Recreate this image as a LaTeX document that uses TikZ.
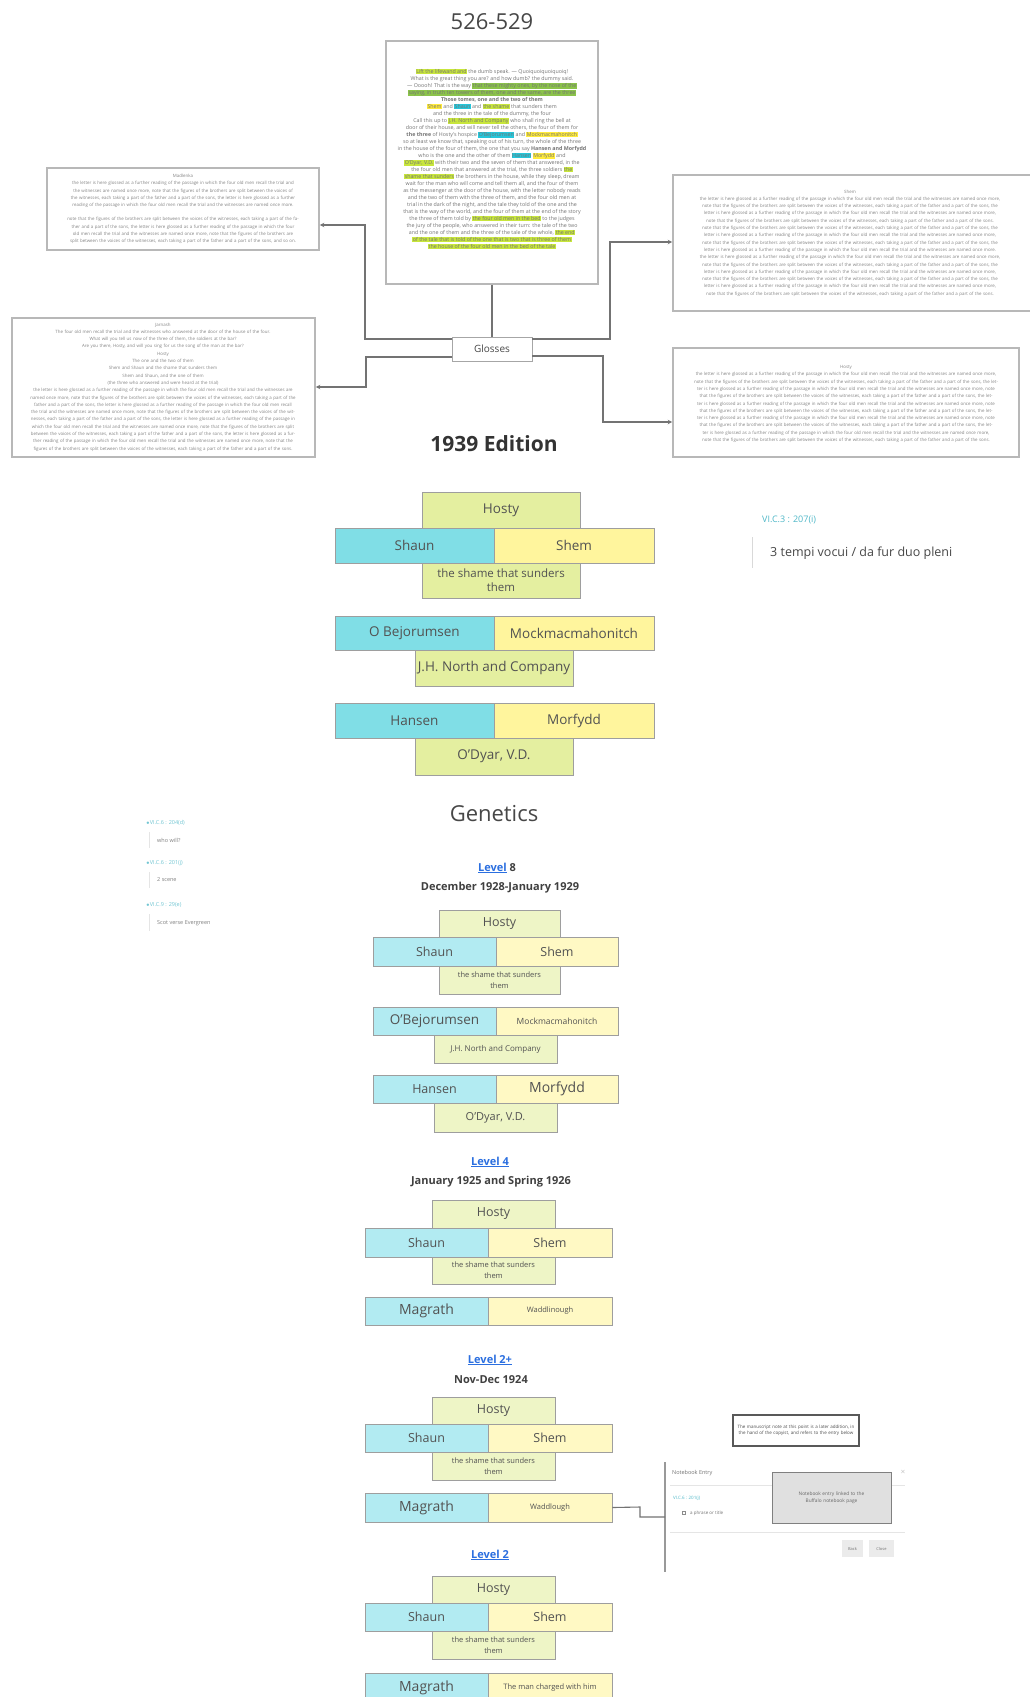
\documentclass[tikz,border=0pt]{standalone}
\usepackage{fontspec}
\setmainfont{Open Sans}
\usetikzlibrary{arrows.meta}
\definecolor{cyA}{HTML}{80DEE6}
\definecolor{yeA}{HTML}{FFF59D}
\definecolor{grA}{HTML}{E4EFA0}
\definecolor{cyB}{HTML}{B2EBF2}
\definecolor{yeB}{HTML}{FFF9C4}
\definecolor{grB}{HTML}{EEF5C6}
\definecolor{hlime}{HTML}{C8E63C}
\definecolor{hgreen}{HTML}{8BC34A}
\definecolor{hcyan}{HTML}{26C6DA}
\definecolor{hyell}{HTML}{FFEB3B}
\definecolor{teal}{HTML}{4FB8C8}
\definecolor{linkb}{HTML}{2B6FE0}
\newcommand\hl[2]{{\setlength{\fboxsep}{0.4pt}\colorbox{#1}{#2}}}
\newcommand\bx[7]{\node[#2, minimum width={(#5)-(#3)}, minimum height={(#6)-(#4)}] (#1) at ({((#3)+(#5))/2},{((#4)+(#6))/2}) {#7};}
\newcommand\fsz[2]{\fontsize{#1}{#2}\selectfont}
\newcommand\glossA{the letter is here glossed as a further reading of the passage in which the four old men recall the trial and the witnesses are named once more}
\newcommand\glossB{note that the figures of the brothers are split between the voices of the witnesses, each taking a part of the father and a part of the sons}
\begin{document}
\begin{tikzpicture}[x=1pt,y=-1pt,
  cell/.style={draw=black!38, line width=0.9pt, inner sep=1pt, align=center, text=black!68},
  big/.style={cell, font=\fsz{13.5}{15}},
  small/.style={cell, font=\fsz{12.5}{14}},
  tiny/.style={cell, font=\fsz{7.5}{9.5}},
  shm/.style={cell, font=\fsz{7.5}{11}},
  gbox/.style={draw=black!28, line width=1.6pt, fill=white, inner sep=0pt},
  gtext/.style={align=center, text=black!48, font=\fsz{4.4}{7.3}, inner sep=0pt},
  conn/.style={draw=black!55, line width=1.1pt},
  arr/.style={conn, -{Stealth[length=4.5pt,width=4.5pt]}},
  lvl/.style={text=linkb, font=\fsz{11}{12}\bfseries},
  dat/.style={text=black!75, font=\fsz{11}{12}\bfseries}
]
\useasboundingbox[fill=white] (0,0) rectangle (1030,1697);

% ---------- title and page ----------
\node[text=black!72, font=\fsz{22}{24}] (title) at (492,22) {526-529};
\bx{page}{gbox}{386}{41}{598}{284}{}
\node[gtext, text=black!55, font=\fsz{5.3}{7}] (pagetext) at (492,159) {%
\hl{hlime}{Lift the lifewand and} the dumb speak. --- Quoiquoiquoiquoiq!\\
What is the great thing you are? and how dumb? the dummy said.\\
--- Ooooh! That is the way \hl{hgreen}{that these mighty ones, by the nose of the}\\
\hl{hgreen}{saying, in truth ten towers of them, one and the same, are the three}\\
\textbf{Those tomes, one and the two of them}\\
\hl{hyell}{Shem} and \hl{hcyan}{Shaun} and \hl{hlime}{the shame} that sunders them\\
and the three in the tale of the dummy, the four\\
Call this up to \hl{hlime}{J.H. North and Company} who shall ring the bell at\\
door of their house, and will never tell the others, the four of them for\\
\textbf{the three} of Hosty's hospice \hl{hcyan}{O'Bejorumsen} and \hl{hyell}{Mockmacmahonitch}\\
so at least we know that, speaking out of his turn, the whole of the three\\
in the house of the four of them, the one that you say \textbf{Hansen and Morfydd}\\
who is the one and the other of them \hl{hcyan}{Hansen} \hl{hyell}{Morfydd} and\\
\hl{hlime}{O'Dyar, V.D.} with their two and the seven of them that answered, in the\\
the four old men that answered at the trial, the three soldiers \hl{hlime}{the}\\
\hl{hlime}{shame that sunders} the brothers in the house, while they sleep, dream\\
wait for the man who will come and tell them all, and the four of them\\
as the messenger at the door of the house, with the letter nobody reads\\
and the two of them with the three of them, and the four old men at\\
trial in the dark of the night, and the tale they told of the one and the\\
that is the way of the world, and the four of them at the end of the story\\
the three of them told by \hl{hlime}{the four old men in the bed} to the judges\\
the jury of the people, who answered in their turn: the tale of the two\\
and the one of them and the three of the tale of the whole, \hl{hlime}{the end}\\
\hl{hlime}{of the tale that is told of the one that is two that is three of them}\\
\hl{hlime}{the house of the four old men in the bed of the tale}};

\bx{glosses}{draw=black!35, line width=1pt, fill=white, font=\fsz{10}{11}, text=black!72, inner sep=0pt}{452}{337}{532}{361}{Glosses}

% ---------- side gloss boxes ----------
\bx{g1}{gbox}{47}{168}{319}{250}{}
\node[gtext, text width=262] (g1t) at (183,209) {Madlenka\\ \glossA, \glossB, \glossA.\\[7pt]
\glossB, \glossA, \glossB, and so on.};

\bx{g2}{gbox}{12}{318}{315}{457}{}
\node[gtext, text width=296] (g2t) at (163,387) {Jarnash\\
The four old men recall the trial and the witnesses who answered at the door of the house of the four.\\
What will you tell us now of the three of them, the soldiers at the bar?\\
Are you there, Hosty, and will you sing for us the song of the man at the bar?\\
Hosty\\
The one and the two of them\\
Shem and Shaun and the shame that sunders them\\
Shem and Shaun, and the one of them\\
(the three who answered and were heard at the trial)\\
\glossA, \glossB, \glossA, \glossB, \glossA, \glossB, \glossA, \glossB.};

\bx{g3}{gbox}{673}{175}{1040}{311}{}
\node[gtext, text width=345] (g3t) at (850,243) {Shem\\
\glossA, \glossB, \glossA, \glossB.\\
\glossB, \glossA, \glossB, \glossA.\\
\glossA, \glossB, \glossA, \glossB, \glossA, \glossB.};

\bx{g4}{gbox}{673}{348}{1019}{457}{}
\node[gtext, text width=328] (g4t) at (846,404) {Hosty\\
\glossA, \glossB, \glossA, \glossB, \glossA, \glossB, \glossA, \glossB, \glossA, \glossB.};

% ---------- connectors ----------
\coordinate (c1s) at (452,339); \coordinate (c1a) at (365,339); \coordinate (c1b) at (365,225);
\coordinate (c2s) at (452,357); \coordinate (c2a) at (366,357); \coordinate (c2b) at (366,387);
\coordinate (c3s) at (532,339); \coordinate (c3a) at (610,339); \coordinate (c3b) at (610,242);
\coordinate (c4s) at (532,356); \coordinate (c4a) at (603,356); \coordinate (c4b) at (603,422);
\draw[conn] (page.south) -- (glosses.north);
\draw[arr] (c1s) -- (c1a) -- (c1b) -- (c1b -| g1.east);
\draw[arr] (c2s) -- (c2a) -- (c2b) -- (c2b -| g2.east);
\draw[arr] (c3s) -- (c3a) -- (c3b) -- (c3b -| g3.west);
\draw[arr] (c4s) -- (c4a) -- (c4b) -- (c4b -| g4.west);

% ---------- 1939 edition ----------
\node[text=black!80, font=\fsz{21}{23}\bfseries] (ed) at (494,444) {1939 Edition};
\bx{eH}{big, fill=grA}{422}{492}{580}{528}{Hosty}
\bx{eSa}{big, fill=cyA}{335}{528}{494}{563}{Shaun}
\bx{eSe}{big, fill=yeA}{494}{528}{654}{563}{Shem}
\bx{esh}{cell, fill=grA, font=\fsz{11.5}{14}}{422}{563}{580}{598}{the shame that sunders\\them}
\bx{eOB}{big, fill=cyA}{335}{616}{494}{650}{O Bejorumsen}
\bx{eMo}{big, fill=yeA}{494}{616}{654}{650}{Mockmacmahonitch}
\bx{eJH}{big, fill=grA}{415}{650}{573}{686}{J.H. North and Company}
\bx{eHa}{big, fill=cyA}{335}{703}{494}{738}{Hansen}
\bx{eMf}{big, fill=yeA}{494}{703}{654}{738}{Morfydd}
\bx{eOD}{big, fill=grA}{415}{738}{573}{775}{O'Dyar, V.D.}

\node[text=teal, font=\fsz{9}{10}, anchor=west, inner sep=0pt] (vi) at (762,520) {VI.C.3 : 207(i)};
\node[text=black!72, font=\fsz{12.5}{14}, anchor=west, inner sep=0pt] (tempi) at (770,553) {3 tempi vocui / da fur duo pleni};
\coordinate (tl1) at (752,537); \coordinate (tl2) at (752,568);
\draw[black!15, line width=1pt] (tl1) -- (tl2);

% ---------- genetics ----------
\node[text=black!72, font=\fsz{22}{24}] (gen) at (494,814) {Genetics};

\node[text=teal!80, font=\fsz{5.5}{6}, anchor=west, inner sep=0pt] (n1) at (146,823) {$\bullet$VI.C.6 : 204(d)};
\node[text=black!50, font=\fsz{5.5}{6}, anchor=west, inner sep=0pt] (n1t) at (157,840) {who will?};
\node[text=teal!80, font=\fsz{5.5}{6}, anchor=west, inner sep=0pt] (n2) at (146,863) {$\bullet$VI.C.6 : 201(j)};
\node[text=black!50, font=\fsz{5.5}{6}, anchor=west, inner sep=0pt] (n2t) at (157,880) {2 scene};
\node[text=teal!80, font=\fsz{5.5}{6}, anchor=west, inner sep=0pt] (n3) at (146,905) {$\bullet$VI.C.9 : 29(e)};
\node[text=black!50, font=\fsz{5.5}{6}, anchor=west, inner sep=0pt] (n3t) at (157,923) {Scot verse Evergreen};
\draw[black!10, line width=0.8pt] (149,832) -- (149,848) (149,872) -- (149,888) (149,914) -- (149,931);

% Level 8
\node[inner sep=0pt, font=\fsz{11}{12}\bfseries] (l8) at (497,868) {\textcolor{linkb}{\underline{Level}}\ \textcolor{black!75}{8}};
\node[dat] (d8) at (500,888) {December 1928-January 1929};
\bx{aH}{small, fill=grB}{439}{910}{560}{937}{Hosty}
\bx{aSa}{small, fill=cyB}{373}{937}{496}{966}{Shaun}
\bx{aSe}{small, fill=yeB}{496}{937}{618}{966}{Shem}
\bx{ash}{shm, fill=grB}{439}{966}{560}{994}{the shame that sunders\\them}
\bx{aOB}{small, fill=cyB, font=\fsz{13.5}{15}}{373}{1007}{496}{1035}{O'Bejorumsen}
\bx{aMo}{tiny, fill=yeB, font=\fsz{8.5}{10}}{496}{1007}{618}{1035}{Mockmacmahonitch}
\bx{aJH}{tiny, fill=grB, font=\fsz{8}{9}}{434}{1035}{557}{1063}{J.H. North and Company}
\bx{aHa}{small, fill=cyB}{373}{1075}{496}{1103}{Hansen}
\bx{aMf}{small, fill=yeB, font=\fsz{14}{15}}{496}{1075}{618}{1103}{Morfydd}
\bx{aOD}{small, fill=grB, font=\fsz{11}{12}}{434}{1103}{557}{1132}{O'Dyar, V.D.}

% Level 4
\node[lvl] (l4) at (490,1162) {\underline{Level 4}};
\node[dat] (d4) at (491,1182) {January 1925 and Spring 1926};
\bx{bH}{small, fill=grB}{432}{1200}{555}{1228}{Hosty}
\bx{bSa}{small, fill=cyB}{365}{1228}{488}{1257}{Shaun}
\bx{bSe}{small, fill=yeB}{488}{1228}{612}{1257}{Shem}
\bx{bsh}{shm, fill=grB}{432}{1257}{555}{1284}{the shame that sunders\\them}
\bx{bMg}{small, fill=cyB, font=\fsz{14}{15}}{365}{1297}{488}{1325}{Magrath}
\bx{bWd}{tiny, fill=yeB}{488}{1297}{612}{1325}{Waddlinough}

% Level 2+
\node[lvl] (l2p) at (490,1360) {\underline{Level 2+}};
\node[dat] (d2p) at (491,1380) {Nov-Dec 1924};
\bx{cH}{small, fill=grB}{432}{1397}{555}{1424}{Hosty}
\bx{cSa}{small, fill=cyB}{365}{1424}{488}{1452}{Shaun}
\bx{cSe}{small, fill=yeB}{488}{1424}{612}{1452}{Shem}
\bx{csh}{shm, fill=grB}{432}{1452}{555}{1480}{the shame that sunders\\them}
\bx{cMg}{small, fill=cyB, font=\fsz{14}{15}}{365}{1493}{488}{1522}{Magrath}
\bx{cWd}{tiny, fill=yeB}{488}{1493}{612}{1522}{Waddlough}

% Level 2
\node[lvl] (l2) at (490,1555) {\underline{Level 2}};
\bx{dH}{small, fill=grB}{432}{1576}{555}{1603}{Hosty}
\bx{dSa}{small, fill=cyB}{365}{1603}{488}{1631}{Shaun}
\bx{dSe}{small, fill=yeB}{488}{1603}{612}{1631}{Shem}
\bx{dsh}{shm, fill=grB}{432}{1631}{555}{1659}{the shame that sunders\\them}
\bx{dMg}{small, fill=cyB, font=\fsz{14}{15}}{365}{1673}{488}{1702}{Magrath}
\bx{dWd}{tiny, fill=yeB}{488}{1673}{612}{1702}{The man charged with him}

% ---------- notebook panel ----------
\bx{nbnote}{draw=black!65, line width=1.1pt, fill=white, font=\fsz{4.5}{6}, text=black!70, align=center, text width=118, inner sep=0pt}{733}{1415}{859}{1446}{The manuscript note at this point is a later addition, in the hand of the copyist, and refers to the entry below}
\coordinate (pt) at (665,1462); \coordinate (pb) at (665,1572);
\draw[black!40, line width=1.2pt] (pt) -- (pb);
\coordinate (k1) at (640,1507); \coordinate (k2) at (640,1517); \coordinate (k3) at (665,1517);
\draw[conn, draw=black!55] (cWd.east) -- (k1) -- (k2) -- (k3);
\node[text=black!55, font=\fsz{5.5}{6}, anchor=west, inner sep=0pt] (nbe) at (672,1473) {Notebook Entry};
\node[text=black!40, font=\fsz{6}{6}, inner sep=0pt] (nbx) at (903,1472) {$\times$};
\draw[black!10, line width=0.7pt] (670,1485) -- (905,1485) (670,1532) -- (905,1532);
\node[text=teal, font=\fsz{4.5}{5}, anchor=west, inner sep=0pt] (nbl) at (673,1498) {VI.C.6 : 201(j)};
\node[draw=black!45, line width=0.4pt, minimum size=3pt, inner sep=0pt] (nbsq) at (684,1513) {};
\node[text=black!55, font=\fsz{4.5}{5}, anchor=west, inner sep=0pt] (nbi) at (690,1513) {a phrase or title};
\bx{nbg}{draw=black!50, line width=0.9pt, fill=black!12, font=\fsz{4.8}{7}, text=black!60, align=center, text width=105, inner sep=0pt}{772}{1472}{891}{1523}{Notebook entry linked to the\\ Buffalo notebook page}
\bx{nbb1}{fill=black!8, font=\fsz{4}{5}, text=black!55, inner sep=0pt}{842}{1540}{863}{1557}{Back}
\bx{nbb2}{fill=black!8, font=\fsz{4}{5}, text=black!55, inner sep=0pt}{869}{1540}{894}{1557}{Close}
\end{tikzpicture}
\end{document}
